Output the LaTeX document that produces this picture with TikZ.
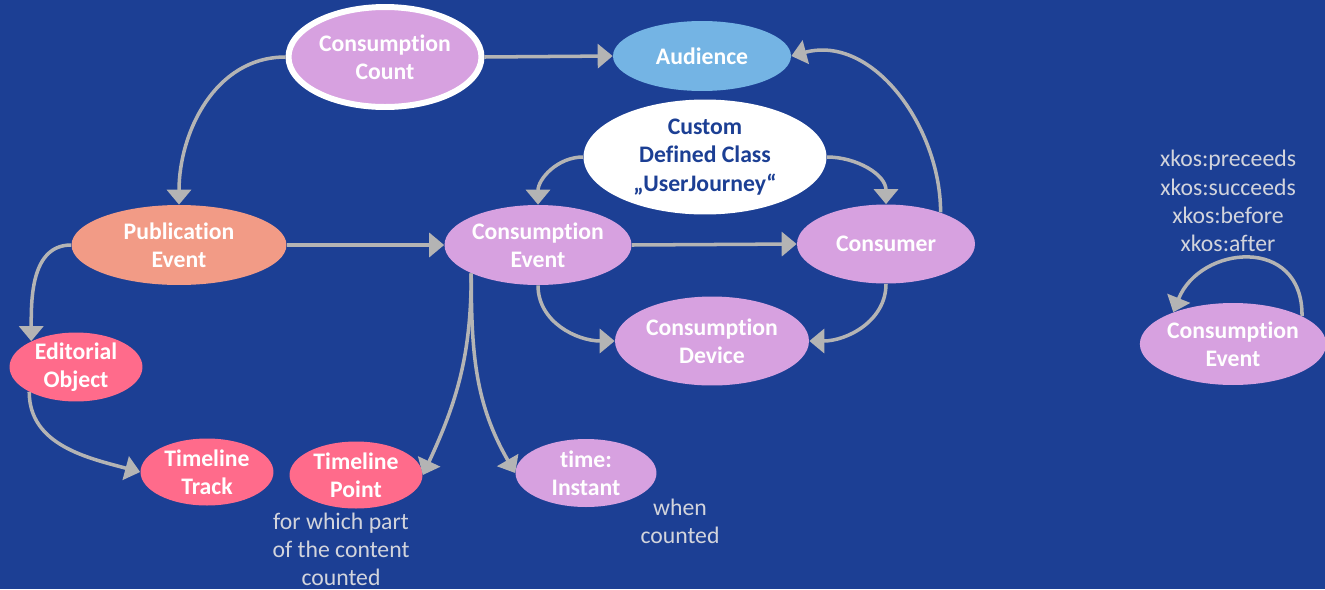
\documentclass[tikz,border=0pt]{standalone}
\usepackage{fontspec}
\setmainfont[Ligatures=NoCommon,RawFeature={-calt;-dlig}]{Carlito}
\usetikzlibrary{shapes.geometric,arrows.meta}
\definecolor{bgblue}{HTML}{1C3F94}
\definecolor{lilac}{HTML}{D7A1E0}
\definecolor{skyblue}{HTML}{74B4E4}
\definecolor{salmon}{HTML}{F29B86}
\definecolor{rosepink}{HTML}{FF6B8B}
\definecolor{linkgrey}{HTML}{B4B4B4}
\definecolor{notegrey}{HTML}{D2D4DC}

\begin{document}
\begin{tikzpicture}[x=0.02cm,y=0.02cm,
    class/.style={ellipse,inner sep=0pt,align=center,text=white,
        font=\bfseries\fontsize{13.5}{16}\selectfont},
    link/.style={draw=linkgrey,line width=2pt,-{Triangle[length=0.3cm,width=0.48cm]}},
    note/.style={align=center,text=notegrey,font=\fontsize{13.5}{16}\selectfont}]

    % Draw the background
    \fill[bgblue] (0,0) rectangle (1325,-589);
    \useasboundingbox (0,0) rectangle (1325,-589);

    % Draw the classes
    \node[class,fill=lilac,draw=white,line width=3.4pt,minimum width=3.86cm,minimum height=2cm] (count) at (385,-57) {Consumption\\Count};
    \node[class,fill=skyblue,minimum width=3.56cm,minimum height=1.4cm] (audience) at (702,-56) {Audience};
    \node[class,fill=white,text=bgblue,minimum width=4.86cm,minimum height=2.3cm] (journey) at (705,-157) {Custom\\Defined Class\\„UserJourney“};
    \node[class,fill=salmon,minimum width=4.3cm,minimum height=1.6cm] (pubevent) at (179,-245) {Publication\\Event};
    \node[class,fill=lilac,minimum width=3.74cm,minimum height=1.6cm] (event) at (538,-245) {Consumption\\Event};
    \node[class,fill=lilac,minimum width=3.56cm,minimum height=1.58cm] (consumer) at (886,-244) {Consumer};
    \node[class,fill=lilac,minimum width=3.88cm,minimum height=1.78cm] (device) at (712,-341) {Consumption\\Device};
    \node[class,fill=rosepink,minimum width=2.66cm,minimum height=1.34cm] (editorial) at (76,-367) {Editorial\\Object};
    \node[class,fill=rosepink,minimum width=2.66cm,minimum height=1.34cm] (track) at (207,-472) {Timeline\\Track};
    \node[class,fill=rosepink,minimum width=2.66cm,minimum height=1.34cm] (point) at (356,-475) {Timeline\\Point};
    \node[class,fill=lilac,minimum width=2.82cm,minimum height=1.36cm] (instant) at (586,-473) {time:\\Instant};
    \node[class,fill=lilac,minimum width=3.68cm,minimum height=1.64cm] (event2) at (1233,-344) {Consumption\\Event};

    % Draw the notes
    \node[note] (pointnote) at (341,-549) {for which part\\of the content\\counted};
    \node[note] (instantnote) at (680,-521) {when\\counted};
    \node[note] (xkosnote) at (1228,-201) {xkos:preceeds\\xkos:succeeds\\xkos:before\\xkos:after};

    % Draw the links
    \draw[link] (count.east) -- (audience.west);
    \draw[link] (count.west) to[out=180,in=90] (pubevent.north);
    \draw[link] (consumer.30) to[out=90,in=15] (audience.east);
    \draw[link] (journey.west) to[out=180,in=90] (event.north);
    \draw[link] (journey.east) to[out=0,in=90] (consumer.north);
    \draw[link] (pubevent.east) -- (event.west);
    \draw[link] (event.east) -- (consumer.west);
    \draw[link] (event.south) to[out=-90,in=180] (device.west);
    \draw[link] (consumer.south) to[out=-90,in=0] (device.east);
    \draw[link] (pubevent.west) to[out=180,in=90] (editorial.150);
    \draw[link] (editorial.-152) to[out=-90,in=165] (track.west);
    \draw[link] (event.-157) to[out=-90,in=65] (point.east);
    \draw[link] (event.-157) to[out=-90,in=120] (instant.west);

    % Draw the loop on the right
    \draw[link] (event2.22) .. controls (1303,-235) and (1200,-245) .. (event2.152);
\end{tikzpicture}
\end{document}
